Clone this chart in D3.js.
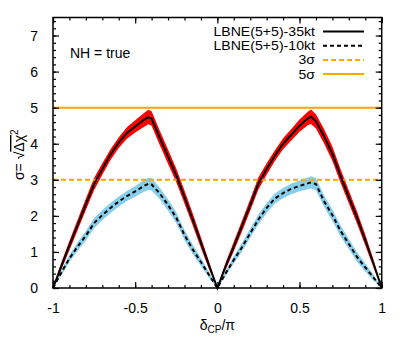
<!DOCTYPE html>
<html>
<head>
<meta charset="utf-8">
<script src="https://cdn.jsdelivr.net/npm/d3@7"></script>
<style>
  body { margin: 0; background: #fff; }
  svg { display: block; font-family: "Liberation Sans", Arial, Helvetica, sans-serif; }
</style>
</head>
<body>
<svg id="chart" width="407" height="350"></svg>
<script>
// delta_CP / pi sample points
const deltaCP = [-1, -0.95, -0.9, -0.85, -0.8, -0.75, -0.7, -0.65, -0.6, -0.55, -0.5, -0.45, -0.42, -0.4,
  -0.35, -0.3, -0.25, -0.2, -0.15, -0.1, -0.05, 0,
  0.05, 0.1, 0.15, 0.2, 0.25, 0.3, 0.35, 0.4, 0.45, 0.5, 0.55, 0.57, 0.6,
  0.65, 0.7, 0.75, 0.8, 0.85, 0.9, 0.95, 1];

// LBNE(5+5)-35kt central curve and band half-width
const sigma35 = [0, 0.6, 1.18, 1.75, 2.32, 2.88, 3.3, 3.7, 4.03, 4.3, 4.48, 4.65, 4.74, 4.7,
  4.16, 3.64, 3.12, 2.52, 1.9, 1.26, 0.62, 0,
  0.6, 1.15, 1.72, 2.3, 2.9, 3.3, 3.67, 4.0, 4.25, 4.5, 4.7, 4.75, 4.62,
  4.2, 3.72, 3.1, 2.52, 1.95, 1.33, 0.68, 0];
const err35 = [0, 0.1, 0.13, 0.15, 0.16, 0.17, 0.16, 0.15, 0.15, 0.16, 0.17, 0.19, 0.2, 0.2,
  0.2, 0.2, 0.19, 0.18, 0.17, 0.15, 0.11, 0,
  0.1, 0.13, 0.15, 0.16, 0.17, 0.16, 0.15, 0.15, 0.16, 0.17, 0.19, 0.2, 0.2,
  0.2, 0.2, 0.19, 0.18, 0.17, 0.15, 0.11, 0];

// LBNE(5+5)-10kt central curve and band half-width
const sigma10 = [0, 0.42, 0.82, 1.15, 1.45, 1.8, 2.02, 2.22, 2.4, 2.55, 2.68, 2.82, 2.89, 2.87,
  2.62, 2.3, 1.95, 1.47, 1.07, 0.72, 0.36, 0,
  0.4, 0.78, 1.13, 1.52, 1.9, 2.22, 2.48, 2.63, 2.75, 2.83, 2.9, 2.93, 2.88,
  2.4, 2.02, 1.58, 1.22, 0.86, 0.57, 0.29, 0];
const err10 = [0, 0.07, 0.1, 0.12, 0.13, 0.14, 0.14, 0.14, 0.14, 0.14, 0.15, 0.16, 0.17, 0.17,
  0.16, 0.16, 0.15, 0.14, 0.13, 0.11, 0.08, 0,
  0.07, 0.1, 0.12, 0.13, 0.14, 0.14, 0.14, 0.14, 0.15, 0.15, 0.16, 0.17, 0.17,
  0.16, 0.16, 0.15, 0.14, 0.13, 0.11, 0.08, 0];

const sigmaLevels = [3, 5];
const legendLabels = ["LBNE(5+5)-35kt", "LBNE(5+5)-10kt", "3\u03c3", "5\u03c3"];
const xTicks = [-1, -0.5, 0, 0.5, 1];
const yTicks = [0, 1, 2, 3, 4, 5, 6, 7];

const margin = { left: 53, right: 25.3, top: 17.5, bottom: 62 };
const W = 407, H = 350;
const COLORS = { band35: "#ff0000", band10: "#87ceeb", line: "#000", sigma: "#ffa500" };

const svg = d3.select("#chart");

const x = d3.scaleLinear().domain([-1, 1]).range([margin.left, W - margin.right]);
const y = d3.scaleLinear().domain([0, 7.5]).range([H - margin.bottom, margin.top]);

const rows = deltaCP.map((d, i) => ({ x: d, s35: sigma35[i], e35: err35[i], s10: sigma10[i], e10: err10[i] }));

const plot = svg.append("g");

// bands
plot.append("path")
    .datum(rows)
    .attr("fill", COLORS.band10)
    .attr("d", d3.area().x(d => x(d.x)).y0(d => y(Math.max(0, d.s10 - d.e10))).y1(d => y(d.s10 + d.e10)));

plot.append("path")
    .datum(rows)
    .attr("fill", COLORS.band35)
    .attr("d", d3.area().x(d => x(d.x)).y0(d => y(Math.max(0, d.s35 - d.e35))).y1(d => y(d.s35 + d.e35)));

// 3 sigma / 5 sigma reference lines
plot.selectAll(".lvl")
    .data(sigmaLevels)
    .join("line")
    .attr("x1", x(-1)).attr("x2", x(1))
    .attr("y1", d => y(d)).attr("y2", d => y(d))
    .attr("stroke", COLORS.sigma)
    .attr("stroke-width", 2)
    .attr("stroke-dasharray", d => d === 3 ? "5,3" : null);

// central curves
plot.append("path")
    .datum(rows)
    .attr("fill", "none")
    .attr("stroke", COLORS.line)
    .attr("stroke-width", 2)
    .attr("d", d3.line().x(d => x(d.x)).y(d => y(d.s35)));

plot.append("path")
    .datum(rows)
    .attr("fill", "none")
    .attr("stroke", COLORS.line)
    .attr("stroke-width", 2)
    .attr("stroke-dasharray", "4,3")
    .attr("d", d3.line().x(d => x(d.x)).y(d => y(d.s10)));

// axes: major + minor ticks, pointing inward on all sides
const xMinor = d3.range(-10, 11).map(i => i / 10);
const yMinor = d3.range(0, 38).map(i => i / 5);
const fmtX = d => d === 0 ? "0" : String(d);

function axisGroup(axis, tx, ty) {
    const g = svg.append("g").attr("transform", `translate(${tx},${ty})`).call(axis);
    g.select(".domain").remove();
    g.selectAll("line").attr("stroke", "#000").attr("stroke-width", 1.2);
    return g;
}

const yB = y(0), yT = y(7.5), xL = x(-1), xR = x(1);

axisGroup(d3.axisBottom(x).tickValues(xMinor).tickSize(-3).tickFormat(""), 0, yB);
axisGroup(d3.axisTop(x).tickValues(xMinor).tickSize(-3).tickFormat(""), 0, yT);
axisGroup(d3.axisTop(x).tickValues(xTicks).tickSize(-6).tickFormat(""), 0, yT);
const xAx = axisGroup(d3.axisBottom(x).tickValues(xTicks).tickSize(-6).tickPadding(15).tickFormat(fmtX), 0, yB);
xAx.selectAll("text").attr("font-size", 14).attr("fill", "#000").attr("font-family", null);

axisGroup(d3.axisLeft(y).tickValues(yMinor).tickSize(-3).tickFormat(""), xL, 0);
axisGroup(d3.axisRight(y).tickValues(yMinor).tickSize(-3).tickFormat(""), xR, 0);
axisGroup(d3.axisRight(y).tickValues(yTicks).tickSize(-6).tickFormat(""), xR, 0);
const yAx = axisGroup(d3.axisLeft(y).tickValues(yTicks).tickSize(-6).tickPadding(15).tickFormat(d3.format("d")), xL, 0);
yAx.selectAll("text").attr("font-size", 14).attr("fill", "#000").attr("font-family", null);

// frame
svg.append("rect")
    .attr("x", xL).attr("y", yT)
    .attr("width", xR - xL).attr("height", yB - yT)
    .attr("fill", "none").attr("stroke", "#000").attr("stroke-width", 1.5);

// axis titles
const xt = svg.append("text")
    .attr("x", x(0)).attr("y", 330)
    .attr("text-anchor", "middle").attr("font-size", 14);
xt.append("tspan").text("\u03b4");
xt.append("tspan").attr("font-size", 10).attr("dy", 3).text("CP");
xt.append("tspan").attr("dy", -3).text("/\u03c0");

const yt = svg.append("text")
    .attr("transform", `translate(24,${(yB + yT) / 2 + 2}) rotate(-90)`)
    .attr("text-anchor", "middle").attr("font-size", 14);
yt.append("tspan").text("\u03c3= \u221a");
yt.append("tspan").attr("text-decoration", "overline").text("\u0394\u03c7");
yt.append("tspan").attr("font-size", 10).attr("dy", -6).text("2");

svg.append("text")
    .attr("x", 70).attr("y", 58)
    .attr("font-size", 14)
    .text("NH = true");

// legend: a slightly condensed-height font, stretched to the reference width
const legendStyles = [
    { color: COLORS.line, dash: null },
    { color: COLORS.line, dash: "4,3" },
    { color: COLORS.sigma, dash: "5,3" },
    { color: COLORS.sigma, dash: null }
];
const legend = svg.append("g");
legendLabels.forEach((label, i) => {
    const ly = 31.5 + i * 14.2;
    legend.append("g")
        .attr("transform", `translate(315,${ly + 4.5}) scale(1.13,1)`)
        .append("text")
        .attr("text-anchor", "end").attr("font-size", 12.5)
        .text(label);
    legend.append("line")
        .attr("x1", 323).attr("x2", 364)
        .attr("y1", ly).attr("y2", ly)
        .attr("stroke", legendStyles[i].color)
        .attr("stroke-width", 2)
        .attr("stroke-dasharray", legendStyles[i].dash);
});
</script>
</body>
</html>
